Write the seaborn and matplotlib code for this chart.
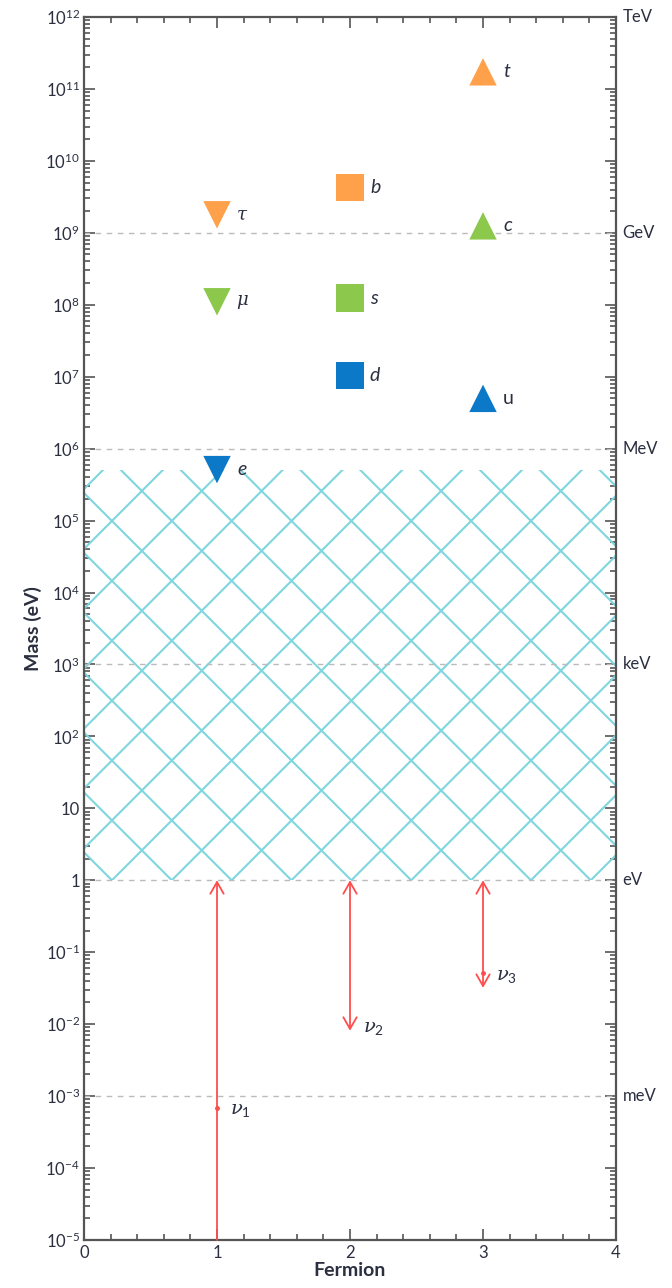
import numpy as np
import pandas as pd
import matplotlib
matplotlib.use("Agg")
import matplotlib.pyplot as plt
from matplotlib.patches import Rectangle
from matplotlib.ticker import FixedLocator, FixedFormatter, LogLocator, MultipleLocator
import seaborn as sns

# charged fermions: position on the x axis and mass in eV
names = ["e", "μ", "τ", "d", "s", "b", "u", "c", "t"]
fermion = [1, 1, 1, 2, 2, 2, 3, 3, 3]
mass = [5.11e5, 1.1e8, 1.78e9, 1.04e7, 1.24e8, 4.3e9, 5.0e6, 1.25e9, 1.73e11]
generation = [1, 2, 3, 1, 2, 3, 1, 2, 3]
kind = ["lepton"] * 3 + ["down"] * 3 + ["up"] * 3

# neutrino mass ranges (eV)
nu_names = [r"$\mathit{\nu}_1$", r"$\mathit{\nu}_2$", r"$\mathit{\nu}_3$"]
nu_x = [1, 2, 3]
nu_upper = [1.0, 1.0, 1.0]
nu_lower = [1e-5, 8.1e-3, 3.2e-2]
nu_dot = [6.9e-4, np.nan, 5.1e-2]
nu_label_y = [6.3e-4, 8.6e-3, 4.6e-2]

# energy scale reference lines
scale_vals = [1e-3, 1.0, 1e3, 1e6, 1e9, 1e12]
scale_names = ["meV", "eV", "keV", "MeV", "GeV", "TeV"]

ytick_vals = [10.0 ** k for k in range(-5, 13)]
ytick_labels = ([r"$10^{%d}$" % k for k in range(-5, 0)] + ["1", "10"]
                + [r"$10^{%d}$" % k for k in range(2, 13)])

df = pd.DataFrame({"name": names, "fermion": fermion, "mass": mass,
                   "gen": generation, "kind": kind})

sns.set_theme(style="ticks")
plt.rcParams["font.family"] = ["Lato", "DejaVu Sans"]
plt.rcParams["mathtext.default"] = "regular"

txt = "#2b2f40"
spine = "#555555"
hatch_col = "#7fd6de"
red = "#ff4d4d"

fig = plt.figure(figsize=(6.72, 12.88), dpi=100)
ax = fig.add_axes([0.125, 0.0373, 0.7917, 0.9495])
ax.set_yscale("log")
ax.set_xlim(0, 4)
ax.set_ylim(1e-5, 1e12)

# forbidden gap between neutrinos and electron: diagonal cross-hatch
clip = Rectangle((0, 1), 4, mass[0] - 1, transform=ax.transData)
slope = 1.85  # decades per x unit -> 45 degrees on screen
for x0 in np.arange(0.21 - 0.45 * 20, 4 + 0.45 * 20, 0.45):
    xs = np.array([x0 - 8, x0 + 8])
    for sg in (1, -1):
        ln, = ax.plot(xs, 10 ** (sg * slope * (xs - x0)), color=hatch_col,
                      lw=1.5, zorder=1)
        ln.set_clip_path(clip)

for v in scale_vals[:-1]:
    ax.axhline(v, color="#bbbbbb", lw=1, ls=(0, (4, 4)), zorder=1.5)

sns.scatterplot(data=df, x="fermion", y="mass", hue="gen", style="kind",
                palette={1: "#0b78c8", 2: "#8cc84b", 3: "#ffa04a"},
                markers={"lepton": "v", "down": "s", "up": "^"},
                s=390, linewidth=0, legend=False, ax=ax, zorder=3)

for n, x, y in zip(names, fermion, mass):
    if n in ("τ", "μ"):
        ax.text(x + 0.14, y, "$\\mathit{\\%s}$" % ("tau" if n == "τ" else "mu"),
                math_fontfamily="dejavuserif", fontsize=13, color=txt,
                va="center", ha="left")
    else:
        ax.text(x + 0.15, y, n, fontsize=14, color=txt, va="center",
                ha="left", fontstyle="normal" if n == "u" else "italic")

# neutrinos
for i, x in enumerate(nu_x):
    style = "->" if i == 0 else "<->"
    ax.annotate("", xy=(x, nu_upper[i]), xytext=(x, nu_lower[i]),
                arrowprops=dict(arrowstyle=style + ",head_length=0.7,head_width=0.4",
                                color=red, lw=1.3, shrinkA=0, shrinkB=0),
                zorder=4)
    if not np.isnan(nu_dot[i]):
        ax.plot([x], [nu_dot[i]], "o", color=red, ms=2.5, zorder=4)
    ax.text(x + 0.1, nu_label_y[i], nu_names[i], math_fontfamily="dejavuserif",
            fontsize=14, color=txt, va="center", ha="left")

# axes styling
ax.yaxis.set_major_locator(FixedLocator(ytick_vals))
ax.yaxis.set_major_formatter(FixedFormatter(ytick_labels))
ax.yaxis.set_minor_locator(LogLocator(base=10, subs=np.arange(2, 10), numticks=40))
ax.xaxis.set_major_locator(MultipleLocator(1))
ax.xaxis.set_minor_locator(MultipleLocator(0.2))
ax.tick_params(which="both", direction="in", top=True, right=True,
               color=spine, labelcolor=txt, labelsize=12, width=1.2)
ax.tick_params(which="major", length=8)
ax.tick_params(which="minor", length=4.5)
ax.tick_params(axis="y", which="major", pad=3)
for s in ax.spines.values():
    s.set_color(spine)
    s.set_linewidth(1.6)

for v, n in zip(scale_vals, scale_names):
    ax.text(1.012, v, n, transform=ax.get_yaxis_transform(), fontsize=12,
            color=txt, va="center", ha="left")

ax.set_xlabel("Fermion", fontsize=14, fontweight="bold", color=txt, labelpad=1)
ax.set_ylabel("Mass (eV)", fontsize=14, fontweight="bold", color=txt, labelpad=2)

fig.savefig("out.png", dpi=100)
